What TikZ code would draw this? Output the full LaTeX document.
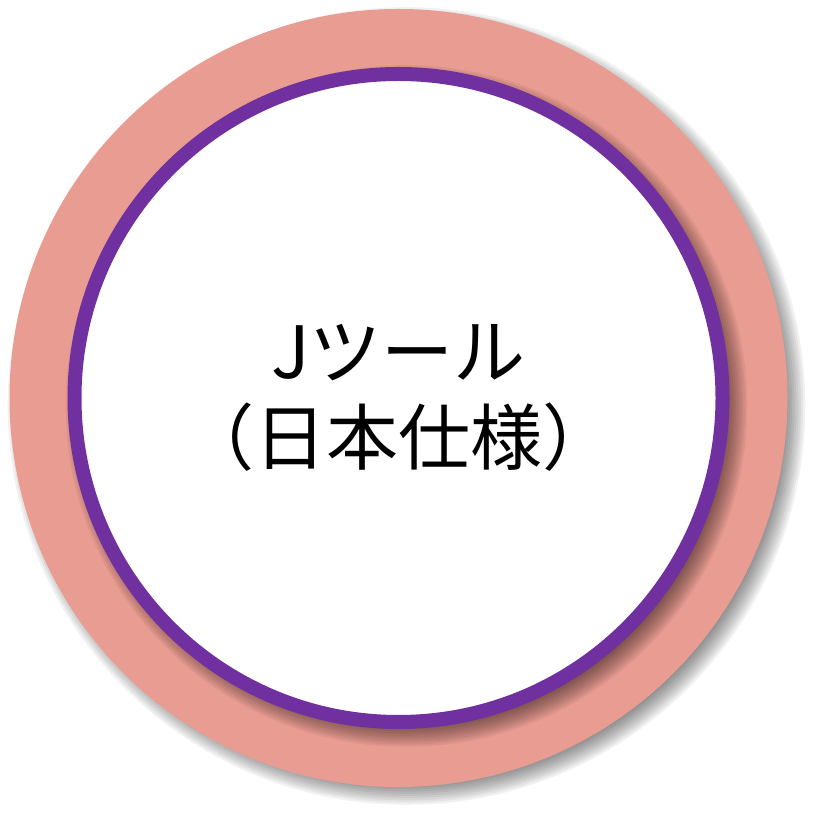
\documentclass[tikz,border=0pt]{standalone}
\usepackage{fontspec}
\newfontfamily\jpfont{Noto Sans CJK JP}
\definecolor{ringsalmon}{HTML}{E99C91}
\definecolor{ringpurple}{HTML}{7030A0}
\tikzset{
  shadowlayer/.style={fill=black, opacity=0.055},
  outerdisc/.style={circle, fill=ringsalmon, minimum size=7.78cm, inner sep=0pt},
  innerdisc/.style={circle, fill=white, draw=ringpurple, line width=0.14cm, minimum size=6.48cm, inner sep=0pt},
}
\begin{document}
\begin{tikzpicture}
\useasboundingbox (0,0) rectangle (8.17,8.17);
\coordinate (c) at (3.985,4.19);

% shadow of the outer disc
\foreach \k in {0,...,9}
  \fill[shadowlayer] ([shift={(0.08,-0.08)}]c) circle[radius={3.79+0.022*\k}];
\node[outerdisc] (outer) at (c) {};

% shadow of the inner disc
\foreach \k in {0,...,9}
  \fill[shadowlayer] ([shift={(0.08,-0.08)}]c) circle[radius={3.21+0.022*\k}];
\node[innerdisc] (inner) at (c) {};

\node[font=\jpfont\fontsize{20.5}{24.6}\selectfont, align=center] (label) at (inner) {Jツール\\（日本仕様）};
\end{tikzpicture}
\end{document}
